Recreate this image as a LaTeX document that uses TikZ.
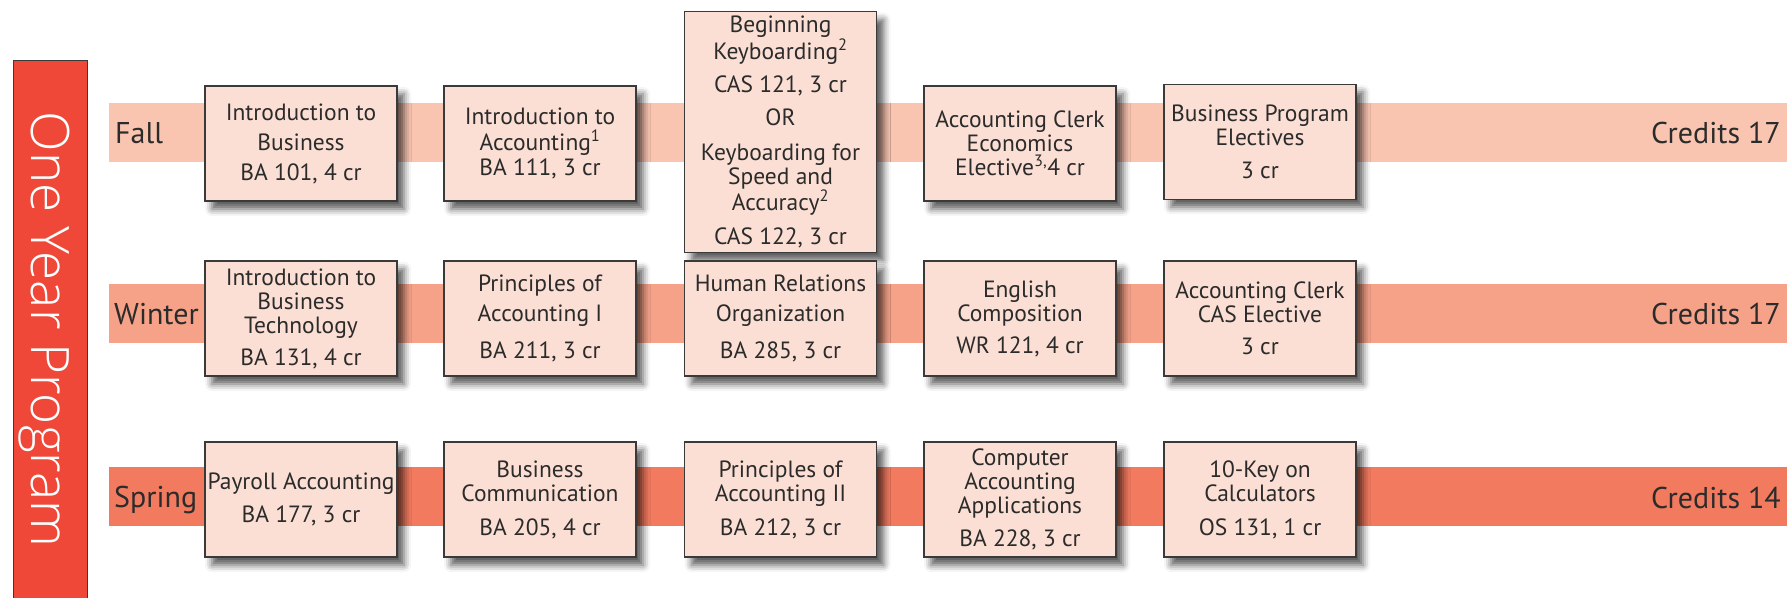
\documentclass[tikz,border=0pt]{standalone}
\usepackage{fontspec}
\setmainfont{PT Sans}
\newfontfamily\oyfont{Open Sans Light}
\usetikzlibrary{shadows.blur}
\definecolor{bandFall}{HTML}{F9C5B1}
\definecolor{bandWinter}{HTML}{F6A289}
\definecolor{bandSpring}{HTML}{F27A5F}
\definecolor{boxfill}{HTML}{FBDFD4}
\definecolor{redbar}{HTML}{EF4838}
\definecolor{txt}{HTML}{2B2B2B}
\definecolor{edge}{HTML}{3A3A3A}
\tikzset{
  course/.style={rectangle, draw=edge, line width=1.3pt, fill=boxfill,
    minimum width=192pt, minimum height=115pt, inner sep=0pt, align=center,
    text=txt, font=\fontsize{23.5}{24}\selectfont,
    blur shadow={shadow xshift=7pt, shadow yshift=-8pt, shadow blur radius=7pt, shadow opacity=65}},
  season/.style={anchor=base west, text=txt, font=\fontsize{30}{32}\selectfont, inner sep=0pt},
  credits/.style={anchor=base east, text=txt, font=\fontsize{30}{32}\selectfont, inner sep=0pt},
}
\begin{document}
\begin{tikzpicture}[x=1pt,y=-1pt]
\useasboundingbox (0,0) rectangle (1787,597);
% bands
\fill[bandFall] (109,103) rectangle (1787,162);
\fill[bandWinter] (109,284) rectangle (1787,343);
\fill[bandSpring] (109,467) rectangle (1787,526);
% red bar
\node[rectangle, draw=edge, line width=1.2pt, fill=redbar, minimum width=74.5pt, minimum height=560pt, inner sep=0pt, anchor=north west] (bar) at (12.5,59.5) {};
\node[rotate=-90, anchor=base, text=white, font=\oyfont\fontsize{53}{55}\selectfont, inner sep=0pt] (oyp) at (31,329.5) {One Year Program};
% season labels
\node[season] (fall) at (115,143) {Fall};
\node[season] (winter) at (114,324) {Winter};
\node[season] (spring) at (114,507) {Spring};
\node[credits] (cf) at (1781,143) {Credits 17};
\node[credits] (cw) at (1781,324) {Credits 17};
\node[credits] (cs) at (1781,508) {Credits 14};
% Fall
\node[course] (f1) at (301,143.5) {Introduction to\\[6pt]Business\\[6pt]BA 101, 4 cr};
\node[course] (f2) at (540,143.5) {Introduction to\\[2pt]Accounting\textsuperscript{1}\\[1pt]BA 111, 3 cr};
\node[course, minimum height=240.6pt] (f3) at (780.5,132) {Beginning\\Keyboarding\textsuperscript{2}\\[9pt]CAS 121, 3 cr\\[9pt]OR\\[11pt]Keyboarding for\\Speed and\\Accuracy\textsuperscript{2}\\[10pt]CAS 122, 3 cr};
\node[course] (f4) at (1020,143.5) {Accounting Clerk\\Economics\\Elective\textsuperscript{3,}4 cr};
\node[course] (f5) at (1260,141.7) {Business Program\\Electives\\[9pt]3 cr};
% Winter
\node[course] (w1) at (301,318.5) {Introduction to\\Business\\Technology\\[8pt]BA 131, 4 cr};
\node[course] (w2) at (540,318.5) {Principles of\\[6pt]Accounting I\\[13pt]BA 211, 3 cr};
\node[course] (w3) at (780.5,318.5) {Human Relations\\[6pt]Organization\\[13pt]BA 285, 3 cr};
\node[course] (w4) at (1020,318.5) {English\\Composition\\[8pt]WR 121, 4 cr};
\node[course] (w5) at (1260,318.5) {Accounting Clerk\\CAS Elective\\[8pt]3 cr};
% Spring
\node[course] (s1) at (301,499.5) {Payroll Accounting\\[9pt]BA 177, 3 cr};
\node[course] (s2) at (540,499.5) {Business\\Communication\\[10pt]BA 205, 4 cr};
\node[course] (s3) at (780.5,499.5) {Principles of\\Accounting II\\[10pt]BA 212, 3 cr};
\node[course] (s4) at (1020,499.5) {Computer\\Accounting\\Applications\\[9pt]BA 228, 3 cr};
\node[course] (s5) at (1260,499.5) {10-Key on\\Calculators\\[10pt]OS 131, 1 cr};
\end{tikzpicture}
\end{document}
